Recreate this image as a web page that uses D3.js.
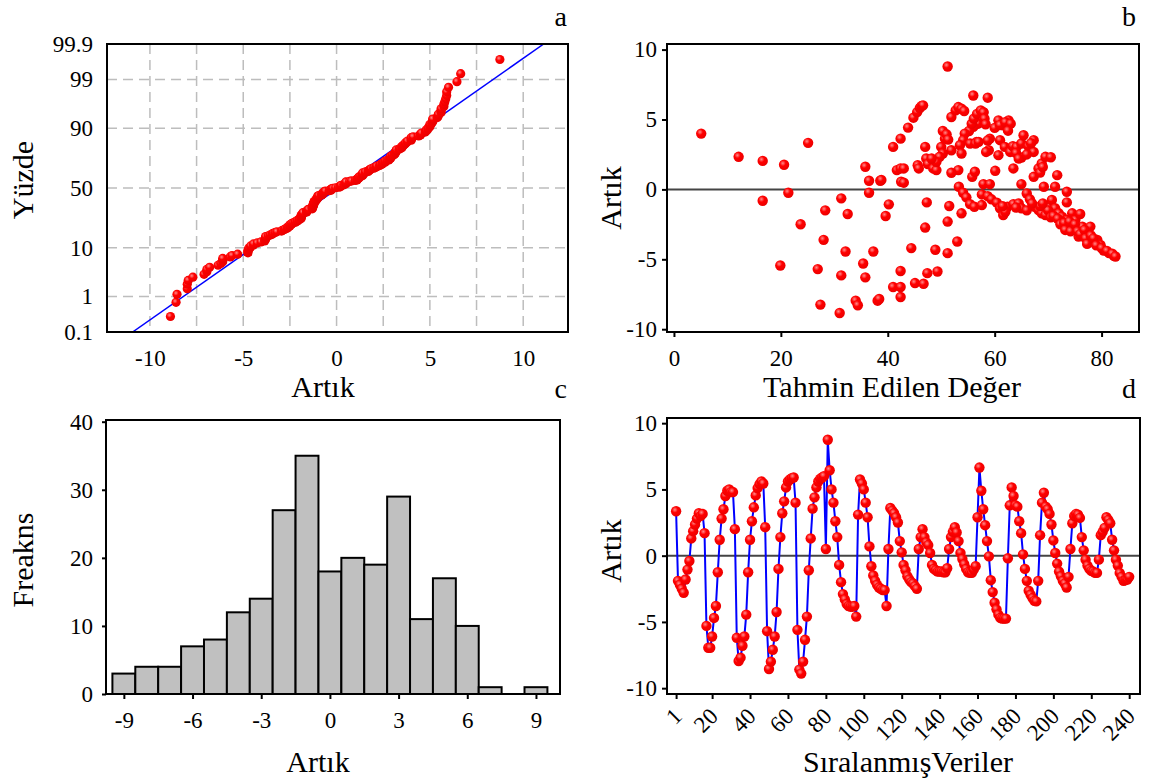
<!DOCTYPE html>
<html>
<head>
<meta charset="utf-8">
<script src="https://cdn.jsdelivr.net/npm/d3@7"></script>
<style>
  body { margin: 0; background: #fff; }
  svg { display: block; }
  text { font-family: "Liberation Serif", "Times New Roman", serif; fill: #000; }
</style>
</head>
<body>
<svg id="chart" width="1149" height="783"></svg>
<script>
// ---- Residuals in observation order (240 observations) ----
const residuals = [
  3.35, -1.9, -2.2, -2.5, -2.8, -1.8, -1.05, -0.4, 1.3, 1.85, 2.35, 2.8, 3.2, 3.0, 3.15, 1.7,
  -5.3, -6.95, -6.95, -6.1, -4.7, -3.8, -1.25, 1.2, 2.8, 3.5, 4.5, 4.9, 5.0, 4.8, 4.8, 2.0,
  -6.2, -7.95, -7.7, -6.8, -6.1, -4.45, -1.25, 1.2, 2.6, 3.65, 4.55, 5.1, 5.4, 5.6, 5.45, 2.15,
  -5.7, -8.55, -8.0, -7.1, -6.1, -4.25, -1.0, 1.4, 3.2, 4.1, 5.15, 5.6, 5.75, 5.85, 5.9, 4.0,
  -5.6, -8.6, -8.9, -8.0, -6.35, -4.6, -1.1, 1.3, 3.55, 4.4, 5.15, 5.6, 5.8, 5.9, 6.0, 0.5,
  8.75, 6.45, 5.0, 4.0, 2.6, 1.4, -0.7, -2.0, -2.9, -3.3, -3.65, -3.8, -3.85, -3.85, -3.8, -4.6,
  3.1, 5.75, 5.45, 5.0, 4.0, 2.9, 0.7, -0.8, -1.5, -1.9, -2.2, -2.4, -2.5, -2.6, -2.6, -3.8,
  0.5, 3.6, 3.4, 3.2, 2.9, 2.5, 1.1, 0.25, -0.7, -1.1, -1.55, -1.8, -2.0, -2.1, -2.3, -2.5,
  0.5, 1.4, 2.0, 1.4, 1.0, 0.8, 0.2, -0.7, -1.0, -1.1, -1.2, -1.2, -1.2, -1.25, -1.25, -0.95,
  0.5, 1.4, 1.8, 2.15, 1.75, 1.1, 0.2, -0.25, -0.65, -1.0, -1.25, -1.3, -1.3, -1.05, -0.8, 2.9,
  6.65, 4.9, 3.5, 2.3, 1.1, -0.05, -1.85, -2.75, -3.55, -4.05, -4.45, -4.7, -4.75, -4.75, -4.75, -0.2,
  3.8, 5.15, 4.5, 3.8, 3.7, 2.6, 1.7, 0.1, -1.0, -1.9, -2.65, -2.95, -3.2, -3.4, -3.45, -1.9,
  1.55, 4.0, 4.75, 3.7, 3.5, 3.15, 2.35, 1.15, 0.2, -0.6, -1.2, -1.55, -1.9, -2.1, -2.4, -1.6,
  0.5, 2.45, 3.0, 3.15, 3.1, 2.85, 1.4, 0.4, -0.3, -0.75, -1.0, -1.15, -1.2, -1.3, -1.3, -0.3,
  1.55, 1.8, 2.1, 2.9, 2.7, 2.45, 1.2, 0.4, -0.3, -0.75, -1.3, -1.6, -1.9, -1.85, -1.8, -1.6
];

// ---- Fitted value / residual pairs (scatter panel) ----
const fittedValues = [
  5.1, 12.1, 16.6, 16.6, 20.6, 21.4, 19.9, 23.7, 25.1, 26.9,
  27.4, 28.3, 28.0, 31.0, 31.3, 31.3, 32.5, 32.1, 34.0, 34.4,
  35.4, 35.8, 35.8, 36.5, 36.5, 37.3, 38.1, 38.4, 38.6, 38.8,
  39.6, 40.2, 41.0, 41.7, 41.0, 42.4, 42.4, 42.4, 42.5, 42.4,
  42.4, 43.0, 43.0, 43.8, 44.8, 45.5, 46.0, 46.3, 46.6, 44.4,
  45.1, 46.7, 47.4, 49.3, 48.9, 47.0, 47.3, 51.2, 53.0, 51.2,
  51.5, 53.8, 47.0, 45.6, 45.8, 47.2, 47.5, 48.5, 49.1, 51.2,
  50.3, 50.7, 50.0, 51.0, 51.3, 51.9, 50.3, 49.7, 49.1, 48.2,
  51.9, 52.7, 53.2, 53.8, 54.3, 56.0, 58.7, 57.9, 57.6, 56.9,
  56.0, 55.2, 54.4, 54.1, 53.5, 53.8, 55.4, 56.6, 59.1, 58.9,
  60.7, 60.7, 61.6, 62.6, 61.0, 61.9, 62.9, 63.4, 64.1, 65.0,
  65.4, 66.3, 67.3, 67.3, 63.5, 65.0, 67.3, 68.2, 68.8, 69.5,
  71.7, 69.2, 71.3, 73.5, 73.5, 65.0, 60.1, 57.9, 59.1, 53.2,
  51.9, 55.8, 56.3, 53.3, 54.1, 54.7, 55.4, 56.2, 57.6, 57.6,
  58.7, 59.4, 60.4, 61.0, 61.6, 62.4, 63.5, 64.5, 65.0, 66.0,
  66.6, 67.5, 68.2, 68.8, 69.5, 70.1, 70.7, 71.3, 72.0, 72.6,
  73.5, 74.5, 75.1, 76.0, 76.4, 77.0, 77.9, 77.6, 78.2, 79.2,
  79.8, 80.4, 81.4, 82.3, 75.7, 74.8, 73.9, 72.6,
  70.0, 70.5, 71.0, 71.8, 72.3, 73.0, 73.2, 74.0, 74.2, 75.0,
  75.5, 76.0, 76.8, 77.0, 77.3, 78.0, 78.5, 79.0, 80.0, 81.0,
  82.0, 82.6, 68.5, 69.0, 67.0, 66.0, 64.0, 62.0, 61.5, 55.7,
  56.1, 56.7, 57.4, 57.9, 58.1, 58.3, 56.4, 57.0, 58.7, 58.4,
  60.0, 61.0, 62.0, 63.0, 62.5, 64.0, 64.5, 66.0, 66.8, 68.5,
  69.0, 70.5
];
const fittedResiduals = [
  3.99, 2.33, 2.04, -0.81, 1.76, -0.24, -5.44, -2.49, 3.33, -5.7,
  -8.24, -1.5, -3.61, -8.84, -0.64, -6.15, -1.76, -4.44, -7.96, -8.29,
  -5.3, -6.29, 1.62, 0.62, -0.24, -4.44, -7.96, -7.84, 0.62, 0.67,
  -1.9, -1.07, 3.04, 1.38, -6.98, -6.98, -7.7, -5.84, 0.55, 3.63,
  1.5, 1.5, 0.48, 4.42, 5.13, 5.53, 5.82, 5.96, 6.01, -4.2,
  -6.7, -6.75, -5.99, -5.87, -4.32, -2.73, -0.93, -4.56, -3.73, -2.3,
  -1.19, -1.71, 3.04, 1.73, 1.5, 2.21, 1.81, 1.5, 1.38, 8.79,
  4.18, 3.63, 3.04, 3.94, 3.56, 2.8, 2.57, 2.33, 1.97, 2.21,
  5.18, 5.65, 5.89, 5.77, 5.61, 6.72, 6.56, 5.53, 5.06, 4.7,
  4.47, 4.18, 3.99, 3.52, 3.16, 2.57, 3.28, 3.4, 3.63, 2.8,
  2.45, 4.94, 4.58, 4.94, 3.52, 3.04, 2.68, 3.09, 3.04, 3.28,
  3.87, 3.09, 3.52, 2.68, 1.5, 2.28, 0.9, 1.5, 1.85, 2.33,
  1.02, 0.19, 0.19, -0.17, -0.93, 0.38, 1.33, 0.38, 0.38, 1.38,
  1.19, 0.9, 1.26, 0.19, -0.24, -0.57, -1.05, -1.24, -1.12, -0.36,
  -0.48, -0.71, -0.95, -1.35, -1.83, -1.24, -1.05, -1.0, -1.35, -0.29,
  -0.71, -1.24, -1.47, -1.71, -1.83, -1.19, -0.76, -1.35, -1.71, -1.95,
  -2.19, -1.71, -2.19, -1.76, -2.66, -3.14, -2.66, -3.61, -3.73, -3.61,
  -3.97, -4.37, -4.56, -4.75, -3.37, -2.78, -2.54, -2.3,
  -1.5, -2.0, -1.9, -2.1, -2.5, -2.4, -2.9, -2.3, -3.0, -2.5,
  -3.0, -3.2, -2.9, -3.5, -3.9, -3.3, -3.5, -4.0, -4.2, -4.4,
  -4.6, -4.8, -1.2, -1.0, -1.0, -1.5, -1.3, -1.6, -1.2, 4.7,
  5.06, 5.4, 5.65, 5.5, 5.06, 4.66, 3.28, 3.4, 3.5, 2.68,
  4.4, 4.6, 4.8, 4.7, 4.2, 2.6, 2.2, 2.5, 3.3, 1.2,
  1.6, 2.3
];

// ---- Histogram of residuals (bin centres and frequencies) ----
const binCenters = [-9, -8, -7, -6, -5, -4, -3, -2, -1, 0, 1, 2, 3, 4, 5, 6, 7, 8, 9];
const binCounts  = [3, 4, 4, 7, 8, 12, 14, 27, 35, 18, 20, 19, 29, 11, 17, 10, 1, 0, 1];

// ---- Tick values ----
const probTicks    = [0.1, 1, 10, 50, 90, 99, 99.9];
const probGrid     = [1, 10, 50, 90, 99];
const residTicksA  = [-10, -5, 0, 5, 10];
const residGridA   = [-10, -7.5, -5, -2.5, 0, 2.5, 5, 7.5, 10];
const residTicksY  = [-10, -5, 0, 5, 10];
const fittedTicks  = [0, 20, 40, 60, 80];
const histXTicks   = [-9, -6, -3, 0, 3, 6, 9];
const histYTicks   = [0, 10, 20, 30, 40];
const orderTicks   = [1, 20, 40, 60, 80, 100, 120, 140, 160, 180, 200, 220, 240];

// Inverse of the standard normal CDF (Acklam's rational approximation)
function normInv(p) {
  const a = [-3.969683028665376e+01, 2.209460984245205e+02, -2.759285104469687e+02, 1.383577518672690e+02, -3.066479806614716e+01, 2.506628277459239e+00];
  const b = [-5.447609879822406e+01, 1.615858368580409e+02, -1.556989798598866e+02, 6.680131188771972e+01, -1.328068155288572e+01];
  const c = [-7.784894002430293e-03, -3.223964580411365e-01, -2.400758277161838e+00, -2.549732539343734e+00, 4.374664141464968e+00, 2.938163982698783e+00];
  const d = [7.784695709041462e-03, 3.224671290700398e-01, 2.445134137142996e+00, 3.754408661907416e+00];
  const pl = 0.02425, ph = 1 - pl;
  let q, r;
  if (p < pl) {
    q = Math.sqrt(-2 * Math.log(p));
    return (((((c[0]*q + c[1])*q + c[2])*q + c[3])*q + c[4])*q + c[5]) / ((((d[0]*q + d[1])*q + d[2])*q + d[3])*q + 1);
  }
  if (p > ph) {
    q = Math.sqrt(-2 * Math.log(1 - p));
    return -(((((c[0]*q + c[1])*q + c[2])*q + c[3])*q + c[4])*q + c[5]) / ((((d[0]*q + d[1])*q + d[2])*q + d[3])*q + 1);
  }
  q = p - 0.5; r = q * q;
  return (((((a[0]*r + a[1])*r + a[2])*r + a[3])*r + a[4])*r + a[5])*q / (((((b[0]*r + b[1])*r + b[2])*r + b[3])*r + b[4])*r + 1);
}

const svg = d3.select("#chart");
const SERIF = '"Liberation Serif", "Times New Roman", serif';
const TICK_FONT = 23, TITLE_FONT = 30;
const plainNum = d => String(d);   // hyphen-minus like the original software

// shiny red marker
const defs = svg.append("defs");
const grad = defs.append("radialGradient").attr("id", "dot").attr("cx", "38%").attr("cy", "35%").attr("r", "70%");
grad.append("stop").attr("offset", "0%").attr("stop-color", "#ff8c8c");
grad.append("stop").attr("offset", "40%").attr("stop-color", "#ff0000");
grad.append("stop").attr("offset", "100%").attr("stop-color", "#e80000");

function styleAxis(g) {
  g.attr("font-family", SERIF).attr("font-size", TICK_FONT);
  g.select(".domain").remove();
  g.selectAll(".tick line").attr("stroke", "#000").attr("stroke-width", 2);
  g.selectAll(".tick text").attr("fill", "#000")
    .style("font-family", SERIF).style("font-size", TICK_FONT + "px");
}
function frame(box) {
  svg.append("rect").attr("x", box.x0).attr("y", box.y0)
    .attr("width", box.x1 - box.x0).attr("height", box.y1 - box.y0)
    .attr("fill", "none").attr("stroke", "#000").attr("stroke-width", 2);
}
function title(txt, x, y, rotate) {
  const t = svg.append("text").text(txt).style("font-size", TITLE_FONT + "px").attr("text-anchor", "middle");
  if (rotate) t.attr("transform", `translate(${x},${y}) rotate(-90)`);
  else t.attr("x", x).attr("y", y);
}
function panelLetter(txt, x, y) {
  svg.append("text").text(txt).attr("x", x).attr("y", y).attr("text-anchor", "end").style("font-size", "28px");
}
function clipFor(id, box) {
  defs.append("clipPath").attr("id", id).append("rect")
    .attr("x", box.x0).attr("y", box.y0).attr("width", box.x1 - box.x0).attr("height", box.y1 - box.y0);
  return `url(#${id})`;
}

// ================= Panel a: normal probability plot =================
{
  const box = { x0: 107, x1: 568, y0: 44, y1: 332 };
  const zMax = normInv(0.999);
  const x = d3.scaleLinear().domain([-12.3, 12.4]).range([box.x0, box.x1]);
  const y = d3.scaleLinear().domain([-zMax, zMax]).range([box.y1, box.y0]);
  const n = residuals.length;
  const sorted = residuals.slice().sort(d3.ascending);
  const pts = sorted.map((v, i) => ({ v, z: normInv((i + 1 - 0.3) / (n + 0.4)) }));
  const mean = d3.mean(residuals), sd = d3.deviation(residuals);

  const grid = svg.append("g").attr("stroke", "#bdbdbd").attr("stroke-width", 1.5).attr("stroke-dasharray", "10,6");
  grid.selectAll("line.v").data(residGridA).join("line")
    .attr("x1", d => x(d)).attr("x2", d => x(d)).attr("y1", box.y0).attr("y2", box.y1);
  grid.selectAll("line.h").data(probGrid).join("line")
    .attr("x1", box.x0).attr("x2", box.x1)
    .attr("y1", d => y(normInv(d / 100))).attr("y2", d => y(normInv(d / 100)));

  const clip = clipFor("clipA", box);
  svg.append("line").attr("clip-path", clip)
    .attr("x1", x(mean - sd * zMax)).attr("y1", y(-zMax))
    .attr("x2", x(mean + sd * zMax)).attr("y2", y(zMax))
    .attr("stroke", "#0000ff").attr("stroke-width", 1.5);

  svg.append("g").selectAll("circle").data(pts).join("circle")
    .attr("cx", d => x(d.v)).attr("cy", d => y(d.z)).attr("r", 4.6).attr("fill", "url(#dot)");

  frame(box);
  svg.append("g").attr("transform", `translate(0,${box.y1})`)
    .call(d3.axisBottom(x).tickValues(residTicksA).tickSize(0).tickPadding(18).tickFormat(plainNum))
    .call(styleAxis);
  svg.append("g").attr("transform", `translate(${box.x0},0)`)
    .call(d3.axisLeft(y).tickValues(probTicks.map(p => normInv(p / 100))).tickSize(0).tickPadding(14)
      .tickFormat((d, i) => String(probTicks[i])))
    .call(styleAxis);

  title("Artık", 323, 397);
  title("Yüzde", 33, 180, true);
  panelLetter("a", 567, 26);
}

// ================= Panel b: residuals vs fitted =================
{
  const box = { x0: 667, x1: 1139, y0: 44, y1: 332 };
  const x = d3.scaleLinear().domain([-1.3, 87.0]).range([box.x0, box.x1]);
  const y = d3.scaleLinear().domain([-10.2, 10.4]).range([box.y1, box.y0]);
  svg.append("line").attr("x1", box.x0).attr("x2", box.x1).attr("y1", y(0)).attr("y2", y(0))
    .attr("stroke", "#444").attr("stroke-width", 2);
  svg.append("g").selectAll("circle").data(fittedValues).join("circle")
    .attr("cx", d => x(d)).attr("cy", (d, i) => y(fittedResiduals[i])).attr("r", 5.2).attr("fill", "url(#dot)");
  frame(box);
  svg.append("g").attr("transform", `translate(0,${box.y1})`)
    .call(d3.axisBottom(x).tickValues(fittedTicks).tickSize(5).tickPadding(13).tickFormat(plainNum))
    .call(styleAxis);
  svg.append("g").attr("transform", `translate(${box.x0},0)`)
    .call(d3.axisLeft(y).tickValues(residTicksY).tickSize(5).tickPadding(5).tickFormat(plainNum))
    .call(styleAxis);
  title("Tahmin Edilen Değer", 892, 397);
  title("Artık", 621, 198, true);
  panelLetter("b", 1136, 26);
}

// ================= Panel c: histogram =================
{
  const box = { x0: 106, x1: 560, y0: 420, y1: 694 };
  const x = d3.scaleLinear().domain([-9.78, 10.05]).range([box.x0, box.x1]);
  const y = d3.scaleLinear().domain([0, 40.25]).range([box.y1, box.y0]);
  svg.append("g").selectAll("rect").data(binCenters).join("rect")
    .attr("x", d => x(d - 0.5)).attr("width", d => x(d + 0.5) - x(d - 0.5))
    .attr("y", (d, i) => y(binCounts[i])).attr("height", (d, i) => y(0) - y(binCounts[i]))
    .attr("fill", "#c0c0c0").attr("stroke", "#000").attr("stroke-width", 2);
  frame(box);
  svg.append("g").attr("transform", `translate(0,${box.y1})`)
    .call(d3.axisBottom(x).tickValues(histXTicks).tickSize(5).tickPadding(13).tickFormat(plainNum))
    .call(styleAxis);
  svg.append("g").attr("transform", `translate(${box.x0},0)`)
    .call(d3.axisLeft(y).tickValues(histYTicks).tickSize(4).tickPadding(9).tickFormat(plainNum))
    .call(styleAxis);
  title("Artık", 318, 772);
  title("Freakns", 33, 560, true);
  panelLetter("c", 567, 398);
}

// ================= Panel d: residuals vs order =================
{
  const box = { x0: 667, x1: 1140, y0: 418, y1: 694 };
  const x = d3.scaleLinear().domain([-3.8, 245.7]).range([box.x0, box.x1]);
  const y = d3.scaleLinear().domain([-10.44, 10.39]).range([box.y1, box.y0]);
  svg.append("line").attr("x1", box.x0).attr("x2", box.x1).attr("y1", y(0)).attr("y2", y(0))
    .attr("stroke", "#444").attr("stroke-width", 2);
  svg.append("path").datum(residuals)
    .attr("d", d3.line().x((d, i) => x(i + 1)).y(d => y(d)))
    .attr("fill", "none").attr("stroke", "#0000ff").attr("stroke-width", 2);
  svg.append("g").selectAll("circle").data(residuals).join("circle")
    .attr("cx", (d, i) => x(i + 1)).attr("cy", d => y(d)).attr("r", 5.2).attr("fill", "url(#dot)");
  frame(box);
  const xa = svg.append("g").attr("transform", `translate(0,${box.y1})`)
    .call(d3.axisBottom(x).tickValues(orderTicks).tickSize(5).tickFormat(plainNum))
    .call(styleAxis);
  xa.selectAll(".tick text")
    .attr("y", 0).attr("dy", "0.35em").attr("text-anchor", "end")
    .attr("transform", "translate(1,18) rotate(-45)");
  svg.append("g").attr("transform", `translate(${box.x0},0)`)
    .call(d3.axisLeft(y).tickValues(residTicksY).tickSize(5).tickPadding(5).tickFormat(plainNum))
    .call(styleAxis);
  title("SıralanmışVeriler", 908, 772);
  title("Artık", 621, 551, true);
  panelLetter("d", 1136, 398);
}
</script>
</body>
</html>
